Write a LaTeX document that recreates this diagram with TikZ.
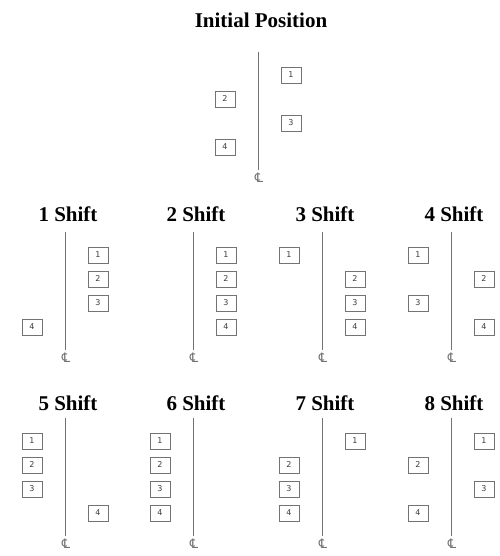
\documentclass[tikz,border=0pt]{standalone}
\usepackage{fontspec}
\setmainfont{Liberation Serif}
\setsansfont{DejaVu Sans}
\usetikzlibrary{positioning}
\definecolor{linegray}{RGB}{115,115,115}
\definecolor{boxtext}{RGB}{60,60,60}
\tikzset{
    paneltitle/.style={font=\bfseries\fontsize{21}{23}\selectfont, inner sep=0pt},
    posbox/.style={
        rectangle, draw=linegray, line width=0.6pt,
        minimum width=20pt, minimum height=16pt, inner sep=0pt,
        font=\sffamily\fontsize{8}{8}\selectfont, text=boxtext
    },
    centreline/.style={draw=linegray, line width=0.8pt},
    clmark/.style={font=\sffamily\fontsize{13}{13}\selectfont, text=linegray, inner sep=0pt}
}
% #1 name, #2 line x, #3 line top, #4 title y, #5 title, #6 sides (1 right, -1 left)
\newcommand{\shiftpanel}[6]{%
    \node[paneltitle] (#1title) at ({#2+3},{#4}) {#5};
    \coordinate (#1top) at ({#2},{#3});
    \coordinate (#1bot) at ({#2},{#3+118});
    \draw[centreline] (#1top) -- (#1bot);
    \node[clmark, below=3pt of #1bot, xshift=1pt] (#1cl) {℄};
    \foreach \s [count=\k] in {#6} {
        \node[posbox] (#1box\k) at ({#2+\s*33},{#3+23+24*(\k-1)}) {\k};
    }%
}
\begin{document}
\begin{tikzpicture}[x=1pt, y=-1pt]
    \useasboundingbox (0,0) rectangle (499,556);

    % Initial position
    \shiftpanel{ini}{258}{52}{20}{Initial Position}{1,-1,1,-1}

    % First row of shifts
    \shiftpanel{sa}{65}{232}{214}{1 Shift}{1,1,1,-1}
    \shiftpanel{sb}{193}{232}{214}{2 Shift}{1,1,1,1}
    \shiftpanel{sc}{322}{232}{214}{3 Shift}{-1,1,1,1}
    \shiftpanel{sd}{451}{232}{214}{4 Shift}{-1,1,-1,1}

    % Second row of shifts
    \shiftpanel{se}{65}{418}{403}{5 Shift}{-1,-1,-1,1}
    \shiftpanel{sf}{193}{418}{403}{6 Shift}{-1,-1,-1,-1}
    \shiftpanel{sg}{322}{418}{403}{7 Shift}{1,-1,-1,-1}
    \shiftpanel{sh}{451}{418}{403}{8 Shift}{1,-1,1,-1}

\end{tikzpicture}
\end{document}
